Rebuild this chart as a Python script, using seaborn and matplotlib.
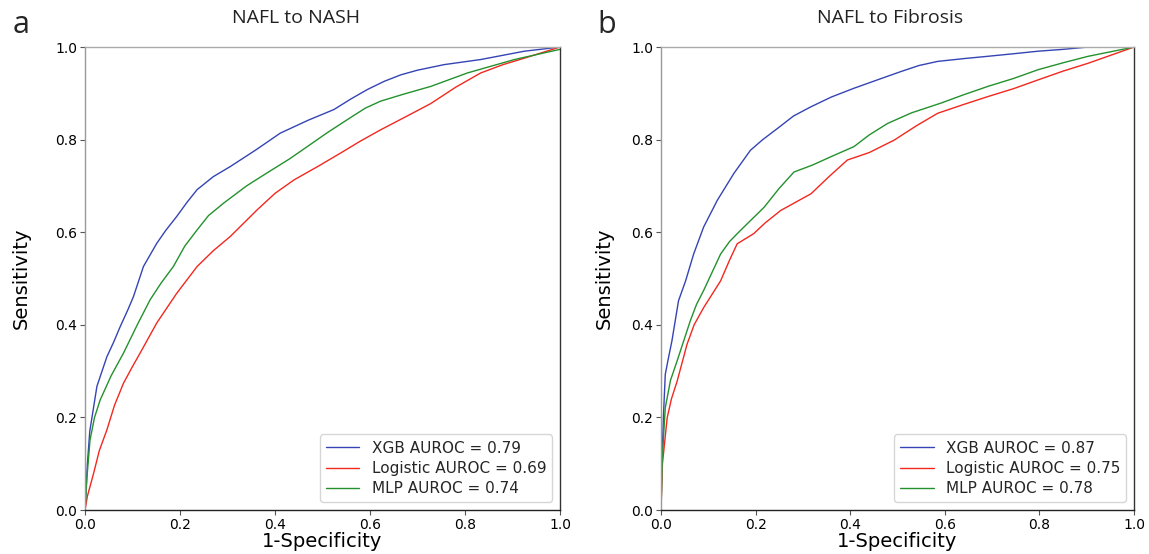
import matplotlib
matplotlib.use('Agg')
import matplotlib.pyplot as plt
import seaborn as sns
import pandas as pd

# 读出的ROC曲线点 (1-Specificity, Sensitivity)
# a: NAFL to NASH
nash_xgb_x = [0, 0.005, 0.01, 0.025, 0.046, 0.06, 0.074, 0.09, 0.102, 0.123, 0.151, 0.17, 0.193, 0.215, 0.236, 0.27, 0.306, 0.36, 0.411, 0.47, 0.524, 0.56, 0.594, 0.63, 0.665, 0.70, 0.756, 0.833, 0.925, 1.0]
nash_xgb_y = [0, 0.10, 0.17, 0.267, 0.331, 0.362, 0.396, 0.432, 0.461, 0.526, 0.576, 0.604, 0.634, 0.665, 0.692, 0.72, 0.742, 0.778, 0.814, 0.842, 0.865, 0.888, 0.908, 0.926, 0.940, 0.950, 0.962, 0.973, 0.991, 1.0]
nash_log_x = [0, 0.005, 0.018, 0.03, 0.046, 0.062, 0.081, 0.10, 0.116, 0.151, 0.193, 0.236, 0.27, 0.306, 0.362, 0.40, 0.440, 0.49, 0.538, 0.58, 0.622, 0.68, 0.728, 0.78, 0.833, 0.88, 0.925, 1.0]
nash_log_y = [0, 0.03, 0.079, 0.128, 0.173, 0.226, 0.274, 0.31, 0.339, 0.404, 0.468, 0.526, 0.56, 0.591, 0.648, 0.684, 0.713, 0.742, 0.771, 0.797, 0.821, 0.852, 0.878, 0.913, 0.944, 0.962, 0.976, 1.0]
nash_mlp_x = [0, 0.004, 0.0105, 0.02, 0.032, 0.055, 0.081, 0.11, 0.137, 0.16, 0.186, 0.21, 0.236, 0.26, 0.292, 0.34, 0.383, 0.43, 0.468, 0.51, 0.552, 0.59, 0.622, 0.67, 0.728, 0.805, 0.904, 1.0]
nash_mlp_y = [0, 0.07, 0.151, 0.2, 0.238, 0.29, 0.339, 0.40, 0.454, 0.49, 0.526, 0.57, 0.605, 0.636, 0.663, 0.70, 0.728, 0.758, 0.785, 0.815, 0.843, 0.868, 0.883, 0.898, 0.915, 0.944, 0.973, 0.995]

# b: NAFL to Fibrosis
fib_xgb_x = [0, 0.002, 0.005, 0.009, 0.016, 0.023, 0.037, 0.052, 0.069, 0.090, 0.119, 0.154, 0.189, 0.215, 0.246, 0.28, 0.317, 0.36, 0.408, 0.46, 0.507, 0.545, 0.585, 0.64, 0.691, 0.75, 0.797, 0.85, 0.903, 1.0]
fib_xgb_y = [0, 0.10, 0.20, 0.293, 0.33, 0.365, 0.452, 0.495, 0.553, 0.611, 0.669, 0.727, 0.777, 0.80, 0.824, 0.851, 0.871, 0.892, 0.911, 0.93, 0.947, 0.96, 0.969, 0.975, 0.980, 0.986, 0.991, 0.995, 1.0, 1.0]
fib_log_x = [0, 0.003, 0.013, 0.022, 0.034, 0.055, 0.07, 0.090, 0.126, 0.145, 0.161, 0.196, 0.22, 0.253, 0.317, 0.355, 0.394, 0.44, 0.493, 0.54, 0.585, 0.64, 0.691, 0.745, 0.797, 0.85, 0.903, 1.0]
fib_log_y = [0, 0.10, 0.199, 0.24, 0.278, 0.358, 0.40, 0.437, 0.495, 0.54, 0.575, 0.597, 0.62, 0.647, 0.683, 0.72, 0.756, 0.772, 0.799, 0.83, 0.857, 0.876, 0.893, 0.91, 0.929, 0.948, 0.965, 1.0]
fib_mlp_x = [0, 0.003, 0.009, 0.02, 0.034, 0.062, 0.075, 0.090, 0.126, 0.145, 0.168, 0.218, 0.25, 0.281, 0.32, 0.359, 0.408, 0.44, 0.479, 0.53, 0.592, 0.64, 0.691, 0.745, 0.797, 0.85, 0.903, 1.0]
fib_mlp_y = [0, 0.12, 0.221, 0.28, 0.322, 0.409, 0.444, 0.474, 0.553, 0.58, 0.604, 0.654, 0.695, 0.730, 0.745, 0.763, 0.785, 0.81, 0.835, 0.858, 0.879, 0.897, 0.915, 0.932, 0.951, 0.966, 0.980, 1.0]

nash_labels = ['XGB AUROC = 0.79', 'Logistic AUROC = 0.69', 'MLP AUROC = 0.74']
fib_labels = ['XGB AUROC = 0.87', 'Logistic AUROC = 0.75', 'MLP AUROC = 0.78']
titles = ['NAFL to NASH', 'NAFL to Fibrosis']
panel_letters = ['a', 'b']
ticks = [0.0, 0.2, 0.4, 0.6, 0.8, 1.0]

colors = ['#3444b4', '#f2281e', '#23912d']

sns.set_style('ticks')
plt.rcParams['font.family'] = ['DejaVu Sans']

fig = plt.figure(figsize=(11.49, 5.54), dpi=100)
ax1 = fig.add_axes([0.074, 0.0794, 0.4134, 0.8357])
ax2 = fig.add_axes([0.5753, 0.0794, 0.4117, 0.8357])

panels = [
    (ax1, [(nash_xgb_x, nash_xgb_y), (nash_log_x, nash_log_y), (nash_mlp_x, nash_mlp_y)], nash_labels, -0.114),
    (ax2, [(fib_xgb_x, fib_xgb_y), (fib_log_x, fib_log_y), (fib_mlp_x, fib_mlp_y)], fib_labels, -0.099),
]

for ax, curves, labels, ylab_x in panels:
    for (xs, ys), lab, c in zip(curves, labels, colors):
        df = pd.DataFrame({'x': xs, 'y': ys})
        sns.lineplot(data=df, x='x', y='y', ax=ax, color=c, linewidth=1.0,
                     sort=False, estimator=None, label=lab)
    ax.set_xlim(0, 1)
    ax.set_ylim(0, 1)
    ax.set_xticks(ticks)
    ax.set_yticks(ticks)
    ax.set_xticklabels([f'{t:.1f}' for t in ticks])
    ax.set_yticklabels([f'{t:.1f}' for t in ticks])
    ax.tick_params(labelsize=10, length=3.5, width=0.8, color='#555555',
                   labelcolor='black', pad=2)
    ax.set_xlabel('1-Specificity', fontsize=14, labelpad=0, color='black')
    ax.set_ylabel('Sensitivity', fontsize=14, color='black')
    ax.yaxis.set_label_coords(ylab_x, 0.5)
    ax.spines['left'].set_color('#999999')
    ax.spines['top'].set_color('#aaaaaa')
    ax.spines['bottom'].set_color('#222222')
    ax.spines['right'].set_color('#333333')
    for s in ax.spines.values():
        s.set_linewidth(1.0)
    ax.legend(loc='lower right', fontsize=11, frameon=True, fancybox=True,
              handlelength=2.2, borderpad=0.4, labelspacing=0.35)

# 标题和面板字母
fig.text(0.258, 0.967, titles[0], ha='center', va='center', fontsize=14, family='Open Sans', color='#222222')
fig.text(0.775, 0.967, titles[1], ha='center', va='center', fontsize=14, family='Open Sans', color='#222222')
fig.text(0.018, 0.955, panel_letters[0], ha='center', va='center', fontsize=22, family='Open Sans')
fig.text(0.528, 0.955, panel_letters[1], ha='center', va='center', fontsize=22, family='Open Sans')

plt.savefig('out.png', dpi=100)
